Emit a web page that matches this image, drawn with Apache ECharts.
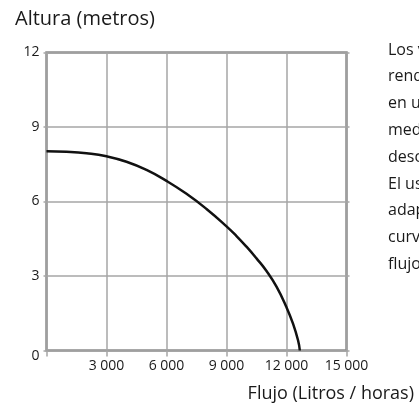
<!DOCTYPE html>
<html>
<head>
<meta charset="utf-8">
<script src="https://cdn.jsdelivr.net/npm/echarts@6/dist/echarts.min.js"></script>
<style>
html,body{margin:0;padding:0;background:#fff;}
#c{width:419px;height:408px;}
</style>
</head>
<body>
<div id="c"></div>
<script>
// Data
const flow = [0, 1000, 2000, 3000, 4000, 5000, 6000, 7000, 8000, 9000, 9500, 10000, 10500, 11000, 11500, 12000, 12330, 12580, 12667];
const height = [8.02, 8.0, 7.94, 7.82, 7.6, 7.27, 6.83, 6.31, 5.7, 5.0, 4.61, 4.18, 3.71, 3.2, 2.57, 1.74, 1.07, 0.4, 0];
const xTicks = [0, 3000, 6000, 9000, 12000, 15000];
const yTicks = [0, 3, 6, 9, 12];
const yTitle = 'Altura (metros)';
const xTitle = 'Flujo (Litros / horas)';
const sideText = ['Los valores de', 'rendimiento fueron', 'en un tanque de', 'medición con', 'descarga libre.', 'El uso de un', 'adaptador altera la', 'curva de', 'flujo.'];

const FONT = 'Open Sans';
const chart = echarts.init(document.getElementById('c'), null, {renderer: 'canvas'});

const fmt = v => {
  const s = String(v);
  return s.length > 3 ? s.slice(0, s.length - 3) + ' ' + s.slice(-3) : s;
};

const option = {
  animation: false,
  backgroundColor: '#fff',
  title: {
    text: yTitle, left: 10, top: 4,
    textStyle: {fontFamily: FONT, fontSize: 20, fontWeight: 'normal', color: '#1a1a1a'}
  },
  grid: {
    left: 46.5, right: 72.5, top: 52.5, bottom: 57.5,
    show: true, borderWidth: 2.5, borderColor: '#8c8c8c', backgroundColor: 'transparent'
  },
  xAxis: {
    type: 'value', min: 0, max: 15000, interval: 3000,
    axisLine: {show: false},
    axisTick: {show: true, length: 6, lineStyle: {color: '#a6a6a6', width: 1.5},
      interval: (i, v) => v !== 0 && v !== 15000},
    splitLine: {show: true, lineStyle: {color: '#a6a6a6', width: 1.5}},
    axisLabel: {
      fontFamily: FONT, fontSize: 14, color: '#1a1a1a', margin: 9,
      formatter: v => v === 0 ? '' : fmt(v)
    }
  },
  yAxis: [{
    type: 'value', min: 0, max: 12, interval: 3,
    axisLine: {show: false},
    axisTick: {show: true, length: 3, lineStyle: {color: '#a6a6a6', width: 1.5}},
    splitLine: {show: true, lineStyle: {color: '#a6a6a6', width: 1.5}},
    axisLabel: {
      fontFamily: FONT, fontSize: 14, color: '#1a1a1a', margin: 7,
      formatter: v => v === 0 ? '{z|0}' : String(v),
      rich: {z: {fontFamily: FONT, fontSize: 14, color: '#1a1a1a', padding: [11, 0, 0, 0]}}
    }
  }, {
    type: 'value', min: 0, max: 12, interval: 3, position: 'right',
    axisLine: {show: false},
    axisTick: {show: true, length: 3, lineStyle: {color: '#a6a6a6', width: 1.5}},
    splitLine: {show: false},
    axisLabel: {show: false}
  }],
  graphic: [
    {type: 'text', right: 5, top: 385, style: {text: xTitle, fontFamily: FONT, fontSize: 18, fill: '#1a1a1a', textAlign: 'right', textVerticalAlign: 'middle'}},
    ...sideText.map((t, i) => ({
      type: 'text', left: 388, top: 42 + i * 26.8,
      style: {text: t, fontFamily: FONT, fontSize: 16, fill: '#1a1a1a'}
    }))
  ],
  series: [{
    type: 'line', smooth: 0.5, symbol: 'none',
    data: flow.map((x, i) => [x, height[i]]),
    lineStyle: {color: '#111', width: 2.5}
  }]
};
chart.setOption(option);
</script>
</body>
</html>
